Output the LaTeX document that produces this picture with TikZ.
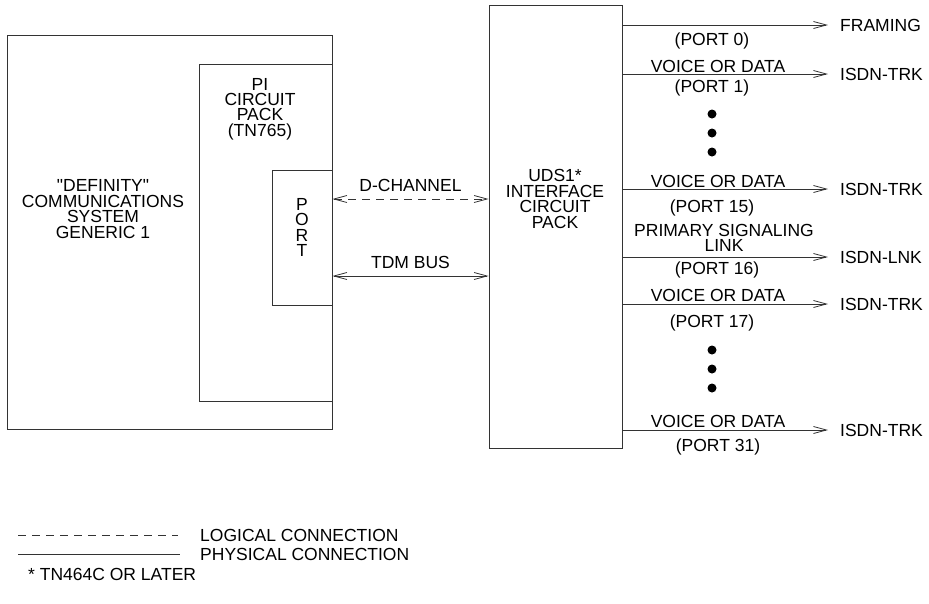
\documentclass[tikz,border=0pt]{standalone}
\usepackage{fontspec}
\setmainfont{Liberation Sans}
\usetikzlibrary{arrows.meta,positioning}

\begin{document}
\begin{tikzpicture}[x=1pt, y=-1pt, >={Straight Barb[length=13pt,width=7pt]},
    every node/.style={font=\fontsize{17.5}{15.4}\selectfont, inner sep=0pt},
    box/.style={draw, line width=0.8pt, draw=black!80},
    lbl/.style={text height=12pt, text depth=0pt},
    multi/.style={align=center},
    tgt/.style={lbl, anchor=west},
    dot/.style={circle, fill, minimum size=9pt},
    wire/.style={line width=0.8pt, draw=black!80},
    logic/.style={wire, dash pattern=on 8pt off 6pt}]
  \useasboundingbox (0,0) rectangle (929,603);

  % Left: system with PI circuit pack
  \node[box, minimum width=325pt, minimum height=394pt] (sys) at (169.5,232) {};
  \node[box, minimum width=133pt, minimum height=337pt] (pi) at (265.5,232.5) {};
  \node[box, minimum width=60pt, minimum height=135pt] (port) at (302,237.5) {};
  \node[multi] (systxt) at (103,209) {\textquotedbl DEFINITY\textquotedbl\\COMMUNICATIONS\\SYSTEM\\GENERIC 1};
  \node[multi] (pitxt) at (260,109) {PI\\CIRCUIT\\PACK\\(TN765)};
  \node[multi] (porttxt) at (302,227.5) {P\\O\\R\\T};

  % Middle: UDS1 interface
  \node[box, minimum width=133pt, minimum height=443pt] (uds) at (555.5,226.5) {};
  \node[multi] (udstxt) at (555,199) {UDS1*\\INTERFACE\\CIRCUIT\\PACK};

  % Links between the packs
  \coordinate (dch) at (410,199);
  \coordinate (tdm) at (410,276);
  \draw[logic, <->] (port.east |- dch) -- node[lbl, above=7pt] (dchtxt) {D-CHANNEL} (uds.west |- dch);
  \draw[wire, <->] (port.east |- tdm) -- node[lbl, above=7pt] (tdmtxt) {TDM BUS} (uds.west |- tdm);

  % Right: ports
  \node[tgt] (tgt0) at (840,25) {FRAMING};
  \node[tgt] (tgt1) at (840,74) {ISDN-TRK};
  \node[tgt] (tgt15) at (840,189) {ISDN-TRK};
  \node[tgt] (tgt16) at (840,257) {ISDN-LNK};
  \node[tgt] (tgt17) at (840,304) {ISDN-TRK};
  \node[tgt] (tgt31) at (840,430) {ISDN-TRK};
  \foreach \p in {0,1,15,16,17,31}
    \draw[wire, ->] (uds.east |- tgt\p) -- ([xshift=-12pt]tgt\p.west);

  \node[lbl] (pt0) at (712,39) {(PORT 0)};
  \node[lbl] (vd1) at (718,66) {VOICE OR DATA};
  \node[lbl] (pt1) at (712,86) {(PORT 1)};
  \node[lbl] (vd15) at (718,181) {VOICE OR DATA};
  \node[lbl] (pt15) at (712,206) {(PORT 15)};
  \node[multi] (psl) at (724,238) {PRIMARY SIGNALING\\LINK};
  \node[lbl] (pt16) at (717,268) {(PORT 16)};
  \node[lbl] (vd17) at (718,295) {VOICE OR DATA};
  \node[lbl] (pt17) at (712,321) {(PORT 17)};
  \node[lbl] (vd31) at (718,421) {VOICE OR DATA};
  \node[lbl] (pt31) at (718,445) {(PORT 31)};

  \foreach \y [count=\i] in {114,133,152,350,369,388}
    \node[dot] (dot\i) at (712,\y) {};

  % Legend
  \coordinate (lgA) at (18,535);
  \coordinate (lgB) at (18,554);
  \node[tgt] (logical) at (200,535) {LOGICAL CONNECTION};
  \node[tgt] (physical) at (200,554) {PHYSICAL CONNECTION};
  \node[tgt] (note) at (28,574) {* TN464C OR LATER};
  \draw[logic] (lgA) -- ([xshift=-22pt]logical.west);
  \draw[wire] (lgB) -- ([xshift=-20pt]physical.west);
\end{tikzpicture}
\end{document}
